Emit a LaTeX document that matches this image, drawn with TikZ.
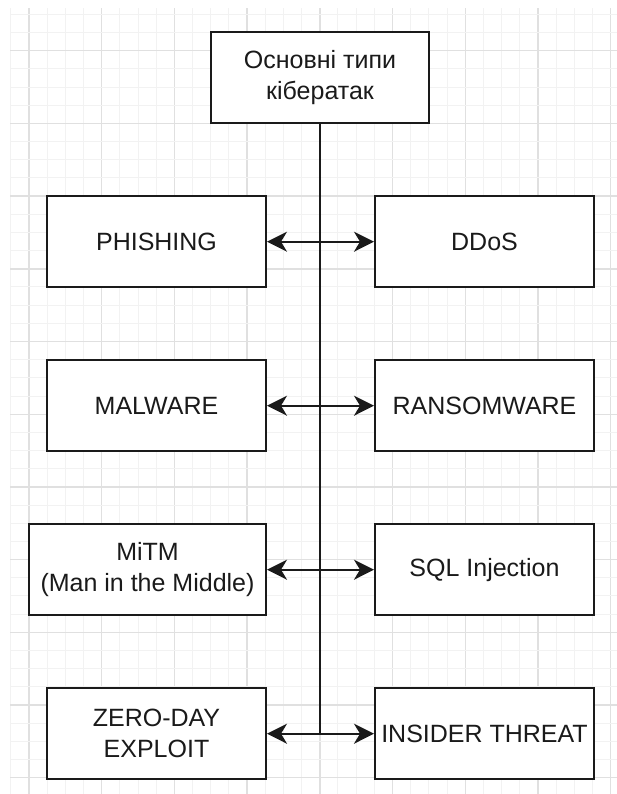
\documentclass[tikz,border=0pt]{standalone}
\usepackage{fontspec}
\setmainfont{Liberation Sans}
\usetikzlibrary{arrows.meta}
\definecolor{gridmajor}{HTML}{E0E0E0}
\definecolor{gridminor}{HTML}{F2F2F2}
\definecolor{ink}{HTML}{1A1A1A}
\tikzset{
  box/.style={draw=ink, line width=2pt, fill=white, minimum height=91pt, inner sep=0pt,
    align=center, text=ink, font=\fontsize{25}{31}\selectfont},
  sidebox/.style={box, minimum width=219pt},
  link/.style={draw=ink, line width=2pt, {Stealth[length=20pt,width=20pt,inset=6pt]}-{Stealth[length=20pt,width=20pt,inset=6pt]}},
  trunk/.style={draw=ink, line width=2pt},
}
\begin{document}
\begin{tikzpicture}[x=1pt, y=-1pt]
\useasboundingbox (0,0) rectangle (617,794);
% grid background
\begin{scope}
\clip (10,8) rectangle (617,794);
\foreach \i in {-1,...,32} {
  \pgfmathtruncatemacro{\m}{mod(\i+8,4)}
  \ifnum\m=0
    \draw[gridmajor, line width=1.4pt] ({29+\i*18.175},8) -- ({29+\i*18.175},794);
  \else
    \draw[gridminor, line width=1pt] ({29+\i*18.175},8) -- ({29+\i*18.175},794);
  \fi
}
\foreach \i in {-2,...,41} {
  \pgfmathtruncatemacro{\m}{mod(\i+8,4)}
  \ifnum\m=0
    \draw[gridmajor, line width=1.4pt] (10,{50.7+\i*18.175}) -- (617,{50.7+\i*18.175});
  \else
    \draw[gridminor, line width=1pt] (10,{50.7+\i*18.175}) -- (617,{50.7+\i*18.175});
  \fi
}
\end{scope}

% nodes
\node[box, minimum width=218pt] (top) at (320,77.7) {Основні типи\\кібератак};
\node[sidebox] (phishing) at (156.5,241.7) {PHISHING};
\node[sidebox] (ddos) at (484.5,241.7) {DDoS};
\node[sidebox] (malware) at (156.5,405.7) {MALWARE};
\node[sidebox] (ransom) at (484.5,405.7) {RANSOMWARE};
\node[box, minimum width=237pt] (mitm) at (147.5,569.7) {MiTM\\(Man in the Middle)};
\node[sidebox] (sql) at (484.5,569.7) {SQL Injection};
\node[sidebox] (zero) at (156.5,733.7) {ZERO-DAY\\EXPLOIT};
\node[sidebox] (insider) at (484.5,733.7) {INSIDER THREAT};

% connectors
\coordinate (c4) at (320,733.7);
\draw[trunk] (top.south) -- (c4);
\draw[link] (phishing.east) -- (ddos.west);
\draw[link] (malware.east) -- (ransom.west);
\draw[link] (mitm.east) -- (sql.west);
\draw[link] (zero.east) -- (insider.west);
\end{tikzpicture}
\end{document}
